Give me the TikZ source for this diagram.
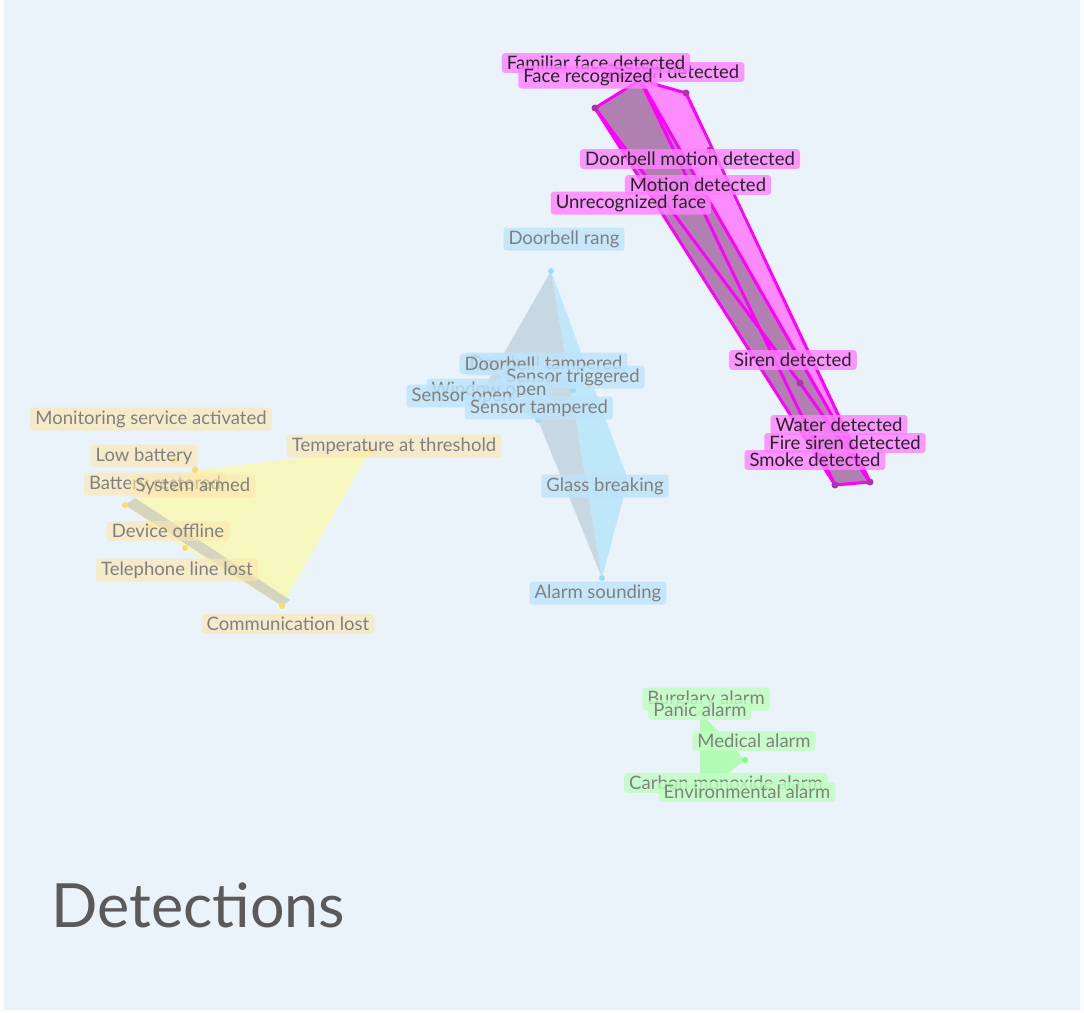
\documentclass[tikz,border=0pt]{standalone}
\usepackage{fontspec}
\setmainfont{Lato}
\definecolor{bgc}{RGB}{234,242,250}
\definecolor{mauve}{RGB}{176,128,176}
\definecolor{bluegrey}{RGB}{196,214,224}
\definecolor{titlec}{RGB}{90,90,90}
\definecolor{mag}{RGB}{255,0,255}
\definecolor{pinkl}{RGB}{255,128,255}
\definecolor{bluel}{RGB}{190,228,250}
\begin{document}
\begin{tikzpicture}[x=1pt,y=-1pt,
 lbl/.style={rounded corners=3pt,inner xsep=5pt,inner ysep=3pt,font=\fontsize{18.5}{20}\selectfont},
 pk/.style={lbl,fill=pinkl,fill opacity=0.8,text opacity=1,text=black!85},
 bl/.style={lbl,fill=bluel,fill opacity=0.8,text opacity=1,text=black!50},
 yl/.style={lbl,fill=yellow!45!orange!30,fill opacity=0.6,text opacity=1,text=black!50},
 gl/.style={lbl,fill=green!25,fill opacity=0.8,text opacity=1,text=black!50},
 dot/.style={circle,inner sep=0pt,minimum size=7pt}]
\fill[white!90!blue!10] (0,0) rectangle (1084,1012);
\fill[bgc] (4,0) rectangle (1080,1010);
\useasboundingbox (0,0) rectangle (1084,1012);
% pink
\fill[pinkl,opacity=0.9] (640,78) -- (686,93) -- (710,150) -- (870,482) -- cycle;
\filldraw[fill=mauve,draw=mag,line width=3pt,line join=round] (595,108) -- (640,80) -- (870,482) -- (835,485) -- cycle;
\draw[mag,line width=3pt] (640,80) -- (835,485) (686,93)--(870,482) (800,383)--(870,482) (595,108)--(800,383) (640,80)--(686,93);
\foreach \p/\n in {595/108,686/93,710/150,800/383,835/485,870/482} \node[dot,fill=mag!60!black!80] (p\p) at (\p,\n) {};
% blue
\fill[cyan!30,opacity=0.8] (551,271) -- (628,480) -- (602,578) -- cycle;
\fill[bluegrey,opacity=0.9] (551,271) -- (483,390) -- (538,420) -- (602,578) -- cycle;
\foreach \p/\n in {551/271,538/420,573/390,483/390,602/578} \node[dot,minimum size=6pt,fill=cyan!40] (b\p) at (\p,\n) {};
% yellow
\fill[yellow!40,opacity=0.6] (125,505) -- (195,470) -- (370,450) -- (282,606) -- (185,548) -- cycle;
\fill[black!25,opacity=0.6] (125,505) -- (135,498) -- (290,600) -- (282,606) -- cycle;
\foreach \p/\n in {125/505,195/470,175/460,150/527,185/548,282/606,370/450} \node[dot,minimum size=6pt,fill=yellow!60!orange!60] (y\p) at (\p,\n) {};
% green
\fill[green!40,opacity=0.7] (700,712) -- (745,760) -- (700,795) -- cycle;
\foreach \p/\n in {700/712,745/760,700/795} \node[dot,minimum size=6pt,fill=green!50] (g\p) at (\p,\n) {};
% labels
\node[pk] (l1) at (673,72) {Person detected};
\node[pk] (l2) at (596,63) {Familiar face detected};
\node[pk] (l3) at (588,77) {Face recognized};
\node[pk] (l4) at (690,159) {Doorbell motion detected};
\node[pk] (l5) at (698,185) {Motion detected};
\node[pk] (l6) at (631,203) {Unrecognized face};
\node[pk] (l7) at (793,360) {Siren detected};
\node[pk] (l8) at (839,425) {Water detected};
\node[pk] (l9) at (845,443) {Fire siren detected};
\node[pk] (l10) at (815,460) {Smoke detected};
\node[bl] (m1) at (564,239) {Doorbell rang};
\node[bl] (m2) at (546,364) {Doorbell tampered};
\node[bl] (m3) at (500,364) {Doorbell};
\node[bl] (m4) at (573,377) {Sensor triggered};
\node[bl] (m5) at (489,390) {Window open};
\node[bl] (m6) at (462,396) {Sensor open};
\node[bl] (m7) at (539,408) {Sensor tampered};
\node[bl] (m8) at (605,486) {Glass breaking};
\node[bl] (m9) at (598,593) {Alarm sounding};
\node[yl] (n1) at (151,419) {Monitoring service activated};
\node[yl] (n2) at (394,446) {Temperature at threshold};
\node[yl] (n3) at (144,456) {Low battery};
\node[yl] (n4) at (155,484) {Battery restored};
\node[yl] (n5) at (193,486) {System armed};
\node[yl] (n6) at (168,531) {Device offline};
\node[yl] (n7) at (177,570) {Telephone line lost};
\node[yl] (n8) at (288,624) {Communication lost};
\node[gl] (o1) at (706,699) {Burglary alarm};
\node[gl] (o2) at (700,710) {Panic alarm};
\node[gl] (o3) at (754,741) {Medical alarm};
\node[gl] (o4) at (726,783) {Carbon monoxide alarm};
\node[gl] (o5) at (747,792) {Environmental alarm};
\node[anchor=west,text=titlec,font=\fontsize{61}{70}\selectfont] (title) at (48,905) {Detections};
\end{tikzpicture}
\end{document}
